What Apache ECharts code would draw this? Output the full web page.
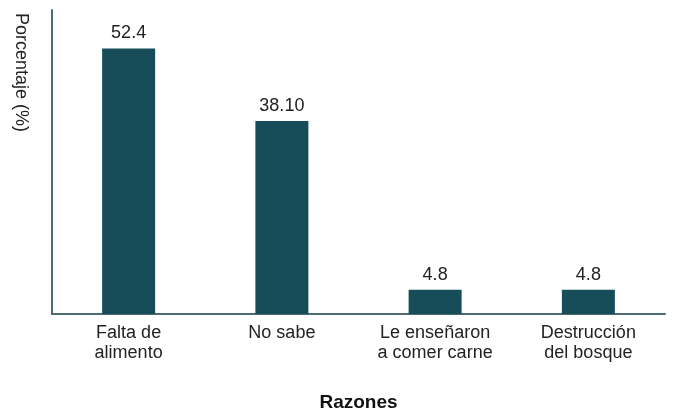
<!DOCTYPE html>
<html>
<head>
<meta charset="utf-8">
<script src="https://cdn.jsdelivr.net/npm/echarts@6/dist/echarts.min.js"></script>
<style>
html,body{margin:0;padding:0;background:#fff;}
#chart{width:675px;height:417px;}
</style>
</head>
<body>
<div id="chart"></div>
<script>
var categories = ['Falta de\nalimento', 'No sabe', 'Le enseñaron\na comer carne', 'Destrucción\ndel bosque'];
var values = [52.4, 38.1, 4.8, 4.8];
var valueLabels = ['52.4', '38.10', '4.8', '4.8'];
var xAxisTitle = 'Razones';
var yAxisTitle = 'Porcentaje (%)';

var chart = echarts.init(document.getElementById('chart'));
var font = '"Liberation Sans", Arial, sans-serif';
chart.setOption({
  animation: false,
  textStyle: { fontFamily: font },
  grid: { left: 52, right: 10, top: 10, bottom: 98, containLabel: false },
  xAxis: {
    type: 'category',
    data: categories,
    name: xAxisTitle,
    nameLocation: 'middle',
    nameGap: 79,
    nameTextStyle: { fontFamily: font, fontSize: 19, fontWeight: 'bold', color: '#111' },
    axisLine: { lineStyle: { color: '#4d6b74', width: 2 } },
    axisTick: { show: false },
    axisLabel: { fontFamily: font, fontSize: 18, color: '#222', lineHeight: 20, margin: 9, interval: 0 }
  },
  yAxis: {
    type: 'value',
    min: 0,
    max: 60,
    axisLine: { show: true, lineStyle: { color: '#4d6b74', width: 2 } },
    axisTick: { show: false },
    axisLabel: { show: false },
    splitLine: { show: false }
  },
  graphic: [{
    type: 'text',
    x: 21,
    y: 13,
    rotation: -Math.PI / 2,
    style: {
      text: yAxisTitle,
      fontFamily: font,
      fontSize: 18,
      fill: '#222',
      align: 'left',
      verticalAlign: 'middle'
    }
  }],
  series: [{
    type: 'bar',
    data: values,
    barWidth: 53,
    itemStyle: { color: '#174c59' },
    label: {
      show: true,
      position: 'top',
      distance: 6,
      fontFamily: font,
      fontSize: 18,
      color: '#222',
      formatter: function (p) { return valueLabels[p.dataIndex]; }
    }
  }]
});
</script>
</body>
</html>
